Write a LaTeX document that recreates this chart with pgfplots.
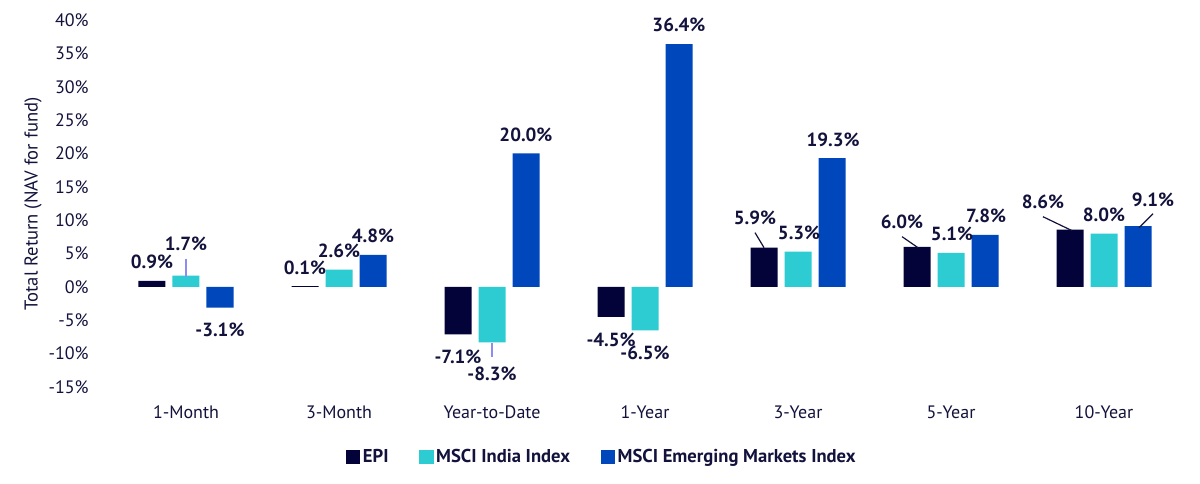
\documentclass[border=0pt]{standalone}
\usepackage{fontspec}
\setmainfont{PT Sans}
\usepackage{pgfplots}
\pgfplotsset{compat=1.18}
\definecolor{epi}{HTML}{03033A}
\definecolor{india}{HTML}{2DCCD3}
\definecolor{em}{HTML}{0047BB}
\definecolor{txt}{HTML}{12123C}
\definecolor{lead}{HTML}{8C8CF5}
\tikzset{lbl/.style={font=\bfseries\fontsize{9.5}{11}\selectfont, text=txt, inner sep=0pt, anchor=center}}
\begin{document}
\begin{tikzpicture}
\begin{axis}[
  at={(0,0)}, anchor=south west,
  scale only axis, width=535.5pt, height=183.5pt,
  xmin=-0.5, xmax=6.5, ymin=-15, ymax=40,
  ybar=3.5pt, bar width=13.5pt,
  xtick={0,1,2,3,4,5,6},
  xticklabels={1-Month,3-Month,Year-to-Date,1-Year,3-Year,5-Year,10-Year},
  ytick={-15,-10,-5,0,5,10,15,20,25,30,35,40},
  yticklabel={\pgfmathprintnumber{\tick}\%},
  /pgf/number format/assume math mode=true,
  axis line style={draw=none}, major tick length=0pt,
  tick label style={font=\fontsize{9}{10}\selectfont, text=txt, inner sep=0pt},
  yticklabel style={anchor=east, xshift=-10.25pt},
  xticklabel style={anchor=base, yshift=-15.5pt},
  legend style={at={(axis description cs:0.4599,0)}, yshift=-35pt, anchor=center,
    draw=none, fill=none, legend columns=3,
    font=\bfseries\fontsize{9.3}{10}\selectfont, text=txt,
    /tikz/every even column/.append style={column sep=14pt},
    nodes={inner sep=1.3pt}},
  legend cell align=left,
  clip=false,
]
\addplot[fill=epi, draw=none, legend image code/.code={\fill[epi] (0pt,-3.6pt) rectangle (7.2pt,3.6pt);}]
  coordinates {(0,0.9) (1,0.1) (2,-7.1) (3,-4.5) (4,5.9) (5,6.0) (6,8.6)};
\addplot[fill=india, draw=none, legend image code/.code={\fill[india] (0pt,-3.6pt) rectangle (7.2pt,3.6pt);}]
  coordinates {(0,1.7) (1,2.6) (2,-8.3) (3,-6.5) (4,5.3) (5,5.1) (6,8.0)};
\addplot[fill=em, draw=none, legend image code/.code={\fill[em] (0pt,-3.6pt) rectangle (7.2pt,3.6pt);}]
  coordinates {(0,-3.1) (1,4.8) (2,20.0) (3,36.4) (4,19.3) (5,7.8) (6,9.1)};
\legend{EPI, MSCI India Index, MSCI Emerging Markets Index}
% leader lines
\draw[lead, line width=0.6pt] (axis cs:0,4.24) -- (axis cs:0,1.54);
\draw[lead, line width=0.6pt] (axis cs:2,-8.34) -- (axis cs:2,-10.43);
\draw[txt, line width=0.6pt] (axis cs:3.719,8.13) -- (axis cs:3.778,5.88);
\draw[txt, line width=0.6pt] (axis cs:4.680,7.53) -- (axis cs:4.784,5.88);
\draw[txt, line width=0.6pt] (axis cs:5.601,10.52) -- (axis cs:5.791,8.43);
\draw[txt, line width=0.6pt] (axis cs:6.320,10.97) -- (axis cs:6.229,8.88);
% data labels
\node[lbl] at (axis cs:-0.222,3.79) {0.9\%};
\node[lbl] at (axis cs:0,6.48) {1.7\%};
\node[lbl] at (axis cs:0.222,-6.39) {-3.1\%};
\node[lbl] at (axis cs:0.778,2.89) {0.1\%};
\node[lbl] at (axis cs:1.0,5.43) {2.6\%};
\node[lbl] at (axis cs:1.222,7.68) {4.8\%};
\node[lbl] at (axis cs:1.778,-10.43) {-7.1\%};
\node[lbl] at (axis cs:2.0,-12.98) {-8.3\%};
\node[lbl] at (axis cs:2.222,22.80) {20.0\%};
\node[lbl] at (axis cs:2.778,-7.89) {-4.5\%};
\node[lbl] at (axis cs:3.0,-9.84) {-6.5\%};
\node[lbl] at (axis cs:3.222,39.27) {36.4\%};
\node[lbl] at (axis cs:3.719,10.37) {5.9\%};
\node[lbl] at (axis cs:4.007,8.13) {5.3\%};
\node[lbl] at (axis cs:4.229,22.05) {19.3\%};
\node[lbl] at (axis cs:4.680,9.78) {6.0\%};
\node[lbl] at (axis cs:5.007,7.98) {5.1\%};
\node[lbl] at (axis cs:5.229,10.67) {7.8\%};
\node[lbl] at (axis cs:5.601,12.77) {8.6\%};
\node[lbl] at (axis cs:6.0,10.82) {8.0\%};
\node[lbl] at (axis cs:6.320,13.07) {9.1\%};
\end{axis}
\node[rotate=90, font=\fontsize{9.3}{10}\selectfont, text=txt, inner sep=0pt] at (-38.25pt,91.5pt) {Total Return (NAV for fund)};
\pgfresetboundingbox
\path (-54.75pt,-48pt) rectangle (545.25pt,193.5pt);
\end{tikzpicture}
\end{document}
